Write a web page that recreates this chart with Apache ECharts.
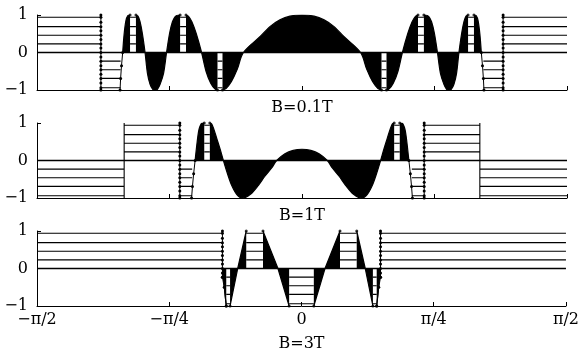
<!DOCTYPE html>
<html>
<head>
<meta charset="utf-8">
<script src="https://cdn.jsdelivr.net/npm/echarts@6/dist/echarts.min.js"></script>
<style>
  html, body { margin: 0; background: #fff; }
  #chart { width: 582px; height: 353px; }
</style>
</head>
<body>
<div id="chart"></div>
<script>
// x values in degrees (-90..90 = -pi/2..pi/2)
const panelTitles = ['B=0.1T', 'B=1T', 'B=3T'];
const xTickLabels = { '-90': '−π/2', '-45': '−π/4', '0': '0', '45': 'π/4', '90': 'π/2' };
const levels = [0.23, 0.46, 0.69, 0.94];
const dotYs = [1, 0.94, 0.81, 0.69, 0.58, 0.46, 0.35, 0.23, 0.12, 0,
  -0.12, -0.23, -0.35, -0.46, -0.58, -0.69, -0.81, -0.94, -1];

// black filled lobes (null = white stripe)
const fill1 = [
  [-60.9, 0], [-60.4, 0.5], [-59.8, 0.85], [-59.2, 0.98], [-58.4, 1], null,
  [-56.4, 1], [-55.7, 0.97], [-55.0, 0.82], [-54.2, 0.5], [-53.3, 0],
  [-52.5, -0.55], [-51.6, -0.85], [-50.7, -0.98], [-49.9, -1], [-49.1, -0.98], [-48.2, -0.85], [-47.0, -0.55],
  [-46.0, 0], [-45.0, 0.5], [-44.0, 0.82], [-43.0, 0.96], [-42.0, 1], [-41.4, 1], null,
  [-39.4, 1], [-38.6, 0.97], [-37.4, 0.82], [-35.9, 0.5], [-34.1, 0],
  [-32.6, -0.5], [-31.0, -0.82], [-29.6, -0.97], [-28.7, -1], null,
  [-27.0, -1], [-25.8, -0.96], [-24.0, -0.78], [-22.0, -0.45], [-19.9, 0],
  [-14.3, 0.42], [-10.9, 0.69], [-7.5, 0.87], [-4.1, 0.97], [0, 1],
  [4.1, 0.97], [7.5, 0.87], [10.9, 0.69], [14.3, 0.42], [19.9, 0],
  [22.0, -0.45], [24.0, -0.78], [25.8, -0.96], [27.0, -1], null,
  [28.7, -1], [29.6, -0.97], [31.0, -0.82], [32.6, -0.5], [34.1, 0],
  [35.9, 0.5], [37.4, 0.82], [38.6, 0.97], [39.4, 1], null,
  [41.4, 1], [42.0, 1], [43.0, 0.96], [44.0, 0.82], [45.0, 0.5], [46.0, 0],
  [47.0, -0.55], [48.2, -0.85], [49.1, -0.98], [49.9, -1], [50.7, -0.98], [51.6, -0.85], [52.5, -0.55],
  [53.3, 0], [54.2, 0.5], [55.0, 0.82], [55.7, 0.97], [56.4, 1], null,
  [58.4, 1], [59.2, 0.98], [59.8, 0.85], [60.4, 0.5], [60.9, 0]
];
const fill2 = [
  [-36.3, 0], [-35.6, 0.5], [-35.0, 0.82], [-34.3, 0.97], [-33.8, 1], [-33.2, 1], null,
  [-31.3, 1], [-30.7, 0.98], [-30.0, 0.85], [-29.0, 0.6], [-27.8, 0.3], [-26.7, 0],
  [-25.2, -0.38], [-23.9, -0.66], [-22.2, -0.9], [-20.3, -1], [-17.5, -0.9], [-14.8, -0.66],
  [-12.6, -0.42], [-10.3, -0.2], [-8.6, 0],
  [-5.8, 0.18], [-3.0, 0.27], [0, 0.3], [3.0, 0.27], [5.8, 0.18], [8.6, 0],
  [10.3, -0.2], [12.6, -0.42], [14.8, -0.66], [17.5, -0.9], [20.3, -1], [22.2, -0.9], [23.9, -0.66],
  [25.2, -0.38], [26.7, 0], [27.8, 0.3], [29.0, 0.6], [30.0, 0.85], [30.7, 0.98], [31.3, 1], null,
  [33.2, 1], [33.8, 1], [34.3, 0.97], [35.0, 0.82], [35.6, 0.5], [36.3, 0]
];
const fill3 = [
  [-26.9, 0], [-25.6, -1], null,
  [-24.3, -1], [-21.7, 0], [-18.8, 1], null,
  [-13.1, 1], [-8.0, 0], [-4.2, -1], null,
  [4.2, -1], [8.0, 0], [13.1, 1], null,
  [18.8, 1], [21.7, 0], [24.3, -1], null,
  [25.6, -1], [26.9, 0]
];

// level-line stretches: [from, to, sign]
const segs1 = [[-90, -68.3, 1], [-68.3, -61.6, -1], [-58.4, -56.4, 1], [-41.4, -39.4, 1], [-28.7, -27.0, -1],
  [27.0, 28.7, -1], [39.4, 41.4, 1], [56.4, 58.4, 1], [61.6, 68.3, -1], [68.3, 90, 1]];
const segs2 = [[-90, -60.4, -1], [-60.4, -41.5, 1], [-41.5, -37.3, -1], [-33.2, -31.3, 1],
  [31.3, 33.2, 1], [37.3, 41.5, -1], [41.5, 60.4, 1], [60.4, 90, -1]];
const segs3 = [[-90, -26.9, 1], [-25.6, -24.3, -1], [-18.8, -13.1, 1], [-4.2, 4.2, -1],
  [13.1, 18.8, 1], [24.3, 25.6, -1], [26.9, 90, 1]];

// dotted jumps: [x, yTop, yBottom]
const vdots1 = [[-68.3, 1, -1], [68.3, 1, -1]];
const vdots2 = [[-41.5, 1, -1], [41.5, 1, -1]];
const vdots3 = [[-26.9, 1, -0.23], [26.9, 1, -0.23]];
// dotted steep edges
const edges1 = [[-61.8, -1], [-61.6, -0.69], [-61.3, -0.35], [-60.9, 0], null,
  [60.9, 0], [61.3, -0.35], [61.6, -0.69], [61.8, -1]];
const edges2 = [[-37.5, -1], [-37.2, -0.69], [-36.8, -0.35], [-36.3, 0], null,
  [36.3, 0], [36.8, -0.35], [37.2, -0.69], [37.5, -1]];
const edges3 = [[-26.9, -0.23], [-26.3, -0.5], [-25.6, -1], null, [25.6, -1], [26.3, -0.5], [26.9, -0.23]];
// solid jumps (panel 2)
const jumps2 = [-60.4, 60.4];
// corner dots on plateaus
const corners1 = [[-58.4, 1], [-56.4, 1], [-41.4, 1], [-39.4, 1], [-28.7, -1], [-27.0, -1],
  [27.0, -1], [28.7, -1], [39.4, 1], [41.4, 1], [56.4, 1], [58.4, 1]];
const corners2 = [[-33.2, 1], [-31.3, 1], [31.3, 1], [33.2, 1]];
const corners3 = [[-25.6, -1], [-24.3, -1], [-18.8, 1], [-13.1, 1], [-4.2, -1], [4.2, -1],
  [13.1, 1], [18.8, 1], [24.3, -1], [25.6, -1]];

const panels = [
  { fill: fill1, segs: segs1, vdots: vdots1, edges: edges1, jumps: [], corners: corners1, smooth: 0.3 },
  { fill: fill2, segs: segs2, vdots: vdots2, edges: edges2, jumps: jumps2, corners: corners2, smooth: 0.3 },
  { fill: fill3, segs: segs3, vdots: vdots3, edges: edges3, jumps: [], corners: corners3, smooth: false }
];

const FONT = 'DejaVu Serif';
const tops = [15, 123, 231];

function levelData(segs, jumps) {
  const out = [];
  segs.forEach(([x0, x1, s]) => {
    levels.forEach(L => { out.push([x0, s * L], [x1, s * L], null); });
  });
  jumps.forEach(x => { out.push([x, -1], [x, 1], null); });
  return out;
}
function vdotData(vdots) {
  const out = [];
  vdots.forEach(([x, yt, yb]) => {
    dotYs.forEach(y => { if (y <= yt && y >= yb) out.push([x, y]); });
    out.push(null);
  });
  return out;
}

const series = [];
panels.forEach((p, i) => {
  const ax = { xAxisIndex: i, yAxisIndex: i };
  series.push({
    type: 'line', ...ax, data: [[-90, 0], [90, 0]], showSymbol: false,
    lineStyle: { color: '#000', width: 1.6 }, silent: true, z: 3
  });
  series.push({
    type: 'line', ...ax, data: p.fill, smooth: p.smooth, showSymbol: false, connectNulls: false,
    lineStyle: { color: '#000', width: 1.2 },
    areaStyle: { color: '#000', opacity: 1, origin: 0 }, z: 2
  });
  series.push({
    type: 'line', ...ax, data: levelData(p.segs, p.jumps), showSymbol: false, connectNulls: false,
    lineStyle: { color: '#000', width: 1.1 }, z: 3
  });
  series.push({
    type: 'line', ...ax, data: vdotData(p.vdots).concat(p.edges), connectNulls: false,
    showSymbol: true, symbol: 'circle', symbolSize: 3,
    itemStyle: { color: '#000' }, lineStyle: { color: '#000', width: 1 }, z: 4
  });
  series.push({
    type: 'scatter', ...ax, data: p.corners, symbolSize: 3, itemStyle: { color: '#000' }, z: 4
  });
});

const chart = echarts.init(document.getElementById('chart'));
chart.setOption({
  animation: false,
  backgroundColor: '#fff',
  grid: tops.map(t => ({ left: 37, right: 15, top: t, height: 75 })),
  xAxis: panelTitles.map((name, i) => ({
    type: 'value', gridIndex: i, min: -90, max: 90, interval: 45,
    axisLine: { onZero: false, lineStyle: { color: '#000', width: 1 } },
    axisTick: { inside: true, length: 4, lineStyle: { color: '#000' } },
    axisLabel: {
      show: i === 2, margin: 6, color: '#000', fontFamily: FONT, fontSize: 16,
      formatter: v => xTickLabels[String(v)] || ''
    },
    splitLine: { show: false },
    name, nameLocation: 'middle', nameGap: i === 2 ? 30 : 10,
    nameTextStyle: { color: '#000', fontFamily: FONT, fontSize: 16 }
  })),
  yAxis: panelTitles.map((_, i) => ({
    type: 'value', gridIndex: i, min: -1, max: 1, interval: 1,
    axisLine: { show: true, onZero: false, lineStyle: { color: '#000', width: 1 } },
    axisTick: { show: true, inside: true, length: 4, lineStyle: { color: '#000' } },
    axisLabel: {
      margin: 9, color: '#000', fontFamily: FONT, fontSize: 16,
      formatter: v => (v < 0 ? '−' + Math.abs(v) : String(v))
    },
    splitLine: { show: false }
  })),
  series
});
</script>
</body>
</html>
